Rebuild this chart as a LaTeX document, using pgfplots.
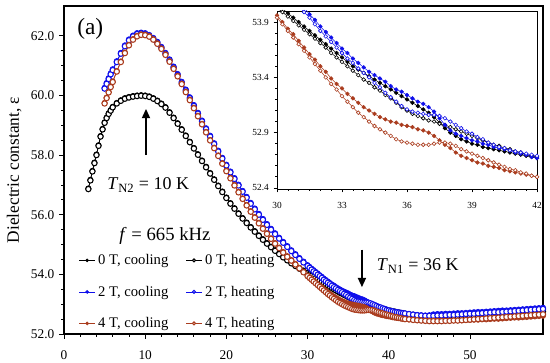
\documentclass[border=0pt]{standalone}
\usepackage{pgfplots}
\pgfplotsset{compat=1.18}
\usepackage{pgfplotstable}
\usepackage{fontspec}
\setmainfont{Liberation Serif}
\usetikzlibrary{arrows.meta}
\definecolor{cblue}{RGB}{15,15,235}
\definecolor{cbrown}{RGB}{170,60,30}

\pgfplotstableread{
T c h
3.00 56.88 56.86
3.25 57.17 57.15
3.50 57.47 57.45
3.75 57.75 57.73
4.00 58.02 58.00
4.25 58.33 58.31
4.50 58.64 58.62
4.75 58.88 58.86
5.00 59.10 59.08
5.25 59.26 59.24
5.50 59.40 59.38
5.75 59.51 59.49
6.00 59.62 59.60
6.50 59.75 59.73
7.00 59.84 59.82
7.50 59.91 59.89
8.00 59.95 59.93
8.50 59.98 59.96
9.00 60.00 59.98
9.50 60.01 59.99
10.00 60.00 59.98
10.50 59.97 59.95
11.00 59.91 59.89
11.50 59.83 59.81
12.00 59.73 59.71
12.50 59.61 59.59
13.00 59.44 59.42
13.50 59.26 59.24
14.00 59.07 59.05
14.50 58.87 58.85
15.00 58.66 58.64
15.50 58.45 58.43
16.00 58.24 58.22
16.50 58.03 58.01
17.00 57.82 57.80
17.50 57.61 57.59
18.00 57.40 57.38
18.50 57.19 57.17
19.00 56.98 56.96
19.50 56.78 56.76
20.00 56.58 56.56
20.50 56.39 56.37
21.00 56.22 56.20
21.50 56.05 56.03
22.00 55.89 55.87
22.50 55.74 55.72
23.00 55.59 55.57
23.50 55.45 55.43
24.00 55.31 55.29
24.50 55.18 55.16
25.00 55.05 55.03
25.50 54.93 54.91
26.00 54.81 54.79
26.50 54.70 54.68
27.00 54.59 54.57
27.50 54.49 54.47
28.00 54.39 54.37
28.50 54.30 54.28
29.00 54.21 54.19
29.50 54.13 54.10
30.00 54.06 54.03
30.25 54.02 53.99
30.50 53.98 53.95
30.75 53.94 53.91
31.00 53.90 53.87
31.25 53.86 53.83
31.50 53.82 53.79
31.75 53.78 53.75
32.00 53.74 53.71
32.25 53.70 53.67
32.50 53.66 53.62
32.75 53.62 53.58
33.00 53.58 53.54
33.25 53.54 53.50
33.50 53.50 53.46
33.75 53.47 53.42
34.00 53.44 53.38
34.25 53.41 53.35
34.50 53.38 53.31
34.75 53.35 53.28
35.00 53.32 53.24
35.25 53.29 53.21
35.50 53.26 53.17
35.75 53.23 53.13
36.00 53.20 53.10
36.25 53.17 53.07
36.50 53.14 53.05
36.75 53.11 53.03
37.00 53.08 53.01
37.25 53.04 53.00
37.50 52.99 52.98
37.75 52.94 52.97
38.00 52.90 52.95
38.25 52.87 52.93
38.50 52.84 52.91
38.75 52.82 52.89
39.00 52.80 52.87
39.25 52.79 52.85
39.50 52.77 52.83
39.75 52.76 52.81
40.00 52.75 52.79
40.25 52.74 52.78
40.50 52.73 52.76
40.75 52.72 52.75
41.00 52.71 52.73
41.25 52.70 52.72
41.50 52.69 52.70
41.75 52.68 52.69
42.00 52.67 52.68
42.50 52.66 52.66
43.00 52.64 52.64
43.50 52.62 52.62
44.00 52.60 52.60
44.50 52.59 52.59
45.00 52.58 52.58
45.50 52.57 52.57
46.00 52.57 52.57
46.50 52.57 52.57
47.00 52.57 52.57
47.50 52.57 52.57
48.00 52.58 52.58
48.50 52.58 52.58
49.00 52.59 52.59
49.50 52.59 52.59
50.00 52.60 52.60
50.50 52.60 52.60
51.00 52.61 52.61
51.50 52.62 52.62
52.00 52.62 52.62
52.50 52.63 52.63
53.00 52.64 52.64
53.50 52.65 52.65
54.00 52.65 52.65
54.50 52.66 52.66
55.00 52.67 52.67
55.50 52.68 52.68
56.00 52.69 52.69
56.50 52.70 52.70
57.00 52.71 52.71
57.50 52.72 52.72
58.00 52.73 52.73
58.50 52.74 52.74
59.00 52.75 52.75
}\tzero

\pgfplotstableread{
T c h
5.00 60.26 60.23
5.25 60.42 60.39
5.50 60.58 60.55
5.75 60.74 60.71
6.00 60.88 60.85
6.50 61.15 61.12
7.00 61.43 61.40
7.50 61.68 61.65
8.00 61.88 61.85
8.50 62.01 61.98
9.00 62.09 62.06
9.50 62.11 62.08
10.00 62.09 62.06
10.50 62.03 62.00
11.00 61.93 61.90
11.50 61.80 61.77
12.00 61.63 61.60
12.50 61.43 61.40
13.00 61.21 61.18
13.50 60.97 60.94
14.00 60.72 60.69
14.50 60.46 60.43
15.00 60.20 60.17
15.50 59.94 59.91
16.00 59.68 59.65
16.50 59.42 59.39
17.00 59.16 59.13
17.50 58.90 58.87
18.00 58.65 58.62
18.50 58.40 58.37
19.00 58.15 58.12
19.50 57.91 57.88
20.00 57.68 57.65
20.50 57.45 57.42
21.00 57.23 57.20
21.50 57.01 56.98
22.00 56.80 56.77
22.50 56.60 56.57
23.00 56.40 56.37
23.50 56.21 56.18
24.00 56.03 56.00
24.50 55.86 55.83
25.00 55.69 55.66
25.50 55.53 55.50
26.00 55.38 55.35
26.50 55.23 55.20
27.00 55.09 55.06
27.50 54.95 54.92
28.00 54.81 54.78
28.50 54.68 54.65
29.00 54.55 54.52
29.50 54.43 54.40
30.00 54.31 54.28
30.25 54.25 54.22
30.50 54.19 54.16
30.75 54.14 54.10
31.00 54.08 54.05
31.25 54.03 53.99
31.50 53.97 53.94
31.75 53.92 53.88
32.00 53.86 53.82
32.25 53.81 53.77
32.50 53.76 53.72
32.75 53.71 53.67
33.00 53.66 53.62
33.25 53.62 53.57
33.50 53.57 53.53
33.75 53.53 53.48
34.00 53.49 53.44
34.25 53.45 53.40
34.50 53.42 53.35
34.75 53.39 53.31
35.00 53.36 53.26
35.25 53.32 53.22
35.50 53.29 53.18
35.75 53.27 53.14
36.00 53.24 53.11
36.25 53.21 53.09
36.50 53.18 53.08
36.75 53.16 53.07
37.00 53.13 53.06
37.25 53.09 53.06
37.50 53.03 53.05
37.75 52.97 53.03
38.00 52.92 53.00
38.25 52.89 52.97
38.50 52.87 52.94
38.75 52.85 52.91
39.00 52.83 52.89
39.25 52.82 52.86
39.50 52.80 52.84
39.75 52.79 52.81
40.00 52.77 52.79
40.25 52.76 52.77
40.50 52.75 52.76
40.75 52.74 52.74
41.00 52.72 52.73
41.25 52.71 52.72
41.50 52.70 52.71
41.75 52.68 52.70
42.00 52.67 52.69
42.50 52.66 52.67
43.00 52.65 52.65
43.50 52.64 52.63
44.00 52.63 52.62
44.50 52.62 52.61
45.00 52.63 52.61
45.50 52.66 52.61
46.00 52.67 52.62
46.50 52.67 52.62
47.00 52.68 52.63
47.50 52.68 52.64
48.00 52.69 52.64
48.50 52.70 52.65
49.00 52.70 52.66
49.50 52.71 52.67
50.00 52.72 52.68
50.50 52.73 52.68
51.00 52.74 52.69
51.50 52.74 52.70
52.00 52.75 52.71
52.50 52.76 52.72
53.00 52.77 52.73
53.50 52.78 52.73
54.00 52.79 52.74
54.50 52.79 52.75
55.00 52.80 52.76
55.50 52.81 52.77
56.00 52.82 52.78
56.50 52.83 52.79
57.00 52.84 52.80
57.50 52.85 52.81
58.00 52.86 52.82
58.50 52.87 52.83
59.00 52.88 52.84
}\ttwo

\pgfplotstableread{
T c h
5.00 59.75 59.73
5.25 59.93 59.91
5.50 60.12 60.10
5.75 60.30 60.28
6.00 60.47 60.45
6.50 60.82 60.80
7.00 61.14 61.12
7.50 61.44 61.42
8.00 61.70 61.68
8.50 61.89 61.87
9.00 62.00 61.98
9.50 62.05 62.03
10.00 62.04 62.02
10.50 61.99 61.97
11.00 61.89 61.87
11.50 61.75 61.73
12.00 61.58 61.56
12.50 61.38 61.36
13.00 61.15 61.13
13.50 60.91 60.89
14.00 60.66 60.64
14.50 60.40 60.38
15.00 60.13 60.11
15.50 59.86 59.84
16.00 59.59 59.57
16.50 59.32 59.30
17.00 59.05 59.03
17.50 58.78 58.76
18.00 58.51 58.49
18.50 58.25 58.23
19.00 57.99 57.97
19.50 57.73 57.71
20.00 57.48 57.46
20.50 57.24 57.22
21.00 57.00 56.98
21.50 56.77 56.75
22.00 56.55 56.53
22.50 56.33 56.31
23.00 56.12 56.10
23.50 55.92 55.90
24.00 55.73 55.71
24.50 55.55 55.53
25.00 55.38 55.36
25.50 55.21 55.19
26.00 55.05 55.03
26.50 54.90 54.88
27.00 54.75 54.73
27.50 54.61 54.59
28.00 54.48 54.46
28.50 54.35 54.33
29.00 54.22 54.20
29.50 54.09 54.07
30.00 53.96 53.94
30.25 53.90 53.88
30.50 53.84 53.82
30.75 53.79 53.76
31.00 53.73 53.70
31.25 53.67 53.64
31.50 53.61 53.58
31.75 53.56 53.52
32.00 53.50 53.46
32.25 53.45 53.40
32.50 53.39 53.34
32.75 53.34 53.29
33.00 53.30 53.23
33.25 53.25 53.18
33.50 53.21 53.13
33.75 53.17 53.08
34.00 53.13 53.04
34.25 53.10 53.00
34.50 53.07 52.96
34.75 53.04 52.93
35.00 53.02 52.90
35.25 53.00 52.87
35.50 52.99 52.84
35.75 52.97 52.82
36.00 52.96 52.81
36.25 52.95 52.80
36.50 52.93 52.79
36.75 52.92 52.79
37.00 52.90 52.79
37.25 52.87 52.80
37.50 52.83 52.81
37.75 52.79 52.81
38.00 52.76 52.80
38.25 52.72 52.78
38.50 52.69 52.75
38.75 52.67 52.73
39.00 52.65 52.71
39.25 52.63 52.69
39.50 52.62 52.67
39.75 52.60 52.65
40.00 52.59 52.63
40.25 52.58 52.61
40.50 52.56 52.59
40.75 52.55 52.57
41.00 52.54 52.56
41.25 52.53 52.54
41.50 52.52 52.53
41.75 52.51 52.51
42.00 52.50 52.50
42.50 52.49 52.49
43.00 52.48 52.47
43.50 52.47 52.46
44.00 52.46 52.45
44.50 52.45 52.44
45.00 52.45 52.43
45.50 52.45 52.43
46.00 52.45 52.43
46.50 52.45 52.43
47.00 52.45 52.44
47.50 52.45 52.44
48.00 52.46 52.45
48.50 52.46 52.45
49.00 52.46 52.46
49.50 52.47 52.47
50.00 52.47 52.48
50.50 52.48 52.49
51.00 52.48 52.50
51.50 52.49 52.51
52.00 52.49 52.52
52.50 52.50 52.53
53.00 52.51 52.54
53.50 52.51 52.55
54.00 52.52 52.56
54.50 52.53 52.57
55.00 52.54 52.58
55.50 52.55 52.59
56.00 52.55 52.60
56.50 52.56 52.61
57.00 52.57 52.62
57.50 52.58 52.63
58.00 52.59 52.64
58.50 52.60 52.65
59.00 52.61 52.66
}\tfour

\begin{document}
\begin{tikzpicture}
\useasboundingbox (-48pt,-21.75pt) rectangle (364.5pt,250.5pt);
\begin{axis}[
  at={(0pt,0pt)}, anchor=south west,
  scale only axis, width=359.25pt, height=246pt,
  xmin=0, xmax=59, ymin=52, ymax=63,
  xtick={0,10,20,30,40,50}, ytick={52,54,56,58,60,62},
  minor x tick num=4, minor y tick num=3,
  tick align=outside, tick pos=left,
  major tick length=3.75pt, minor tick length=2.2pt,
  every tick/.style={black, line width=0.6pt},
  axis line style={line width=0.8pt},
  /pgf/number format/assume math mode=true,
  ticklabel style={font=\fontsize{10}{12}\selectfont},
  xticklabel style={yshift=-5pt},
  yticklabel style={/pgf/number format/.cd, fixed, fixed zerofill, precision=1},
  ylabel={Dielectric constant, ε},
  ylabel style={at={(axis description cs:-0.088,0.5)}, anchor=south, inner sep=0pt, font=\fontsize{13}{15}\selectfont},
  legend columns=2,
  legend cell align=left,
  legend style={draw=none, fill=none, at={(axis cs:1.3,54.86)}, anchor=north west,
    font=\fontsize{11}{13}\selectfont, row sep=10.5pt,
    /tikz/every even column/.append style={column sep=11pt}},
  legend image code/.code={\draw[mark repeat=2,mark phase=2,#1,mark size=1.1pt] plot coordinates {(0pt,0pt) (6pt,0pt) (12pt,0pt)};},
]
\addplot[black, line width=0.5pt, mark=*, mark size=2pt, mark options={fill=black, line width=0.5pt}] table[x=T,y=c]{\tzero};
\addlegendentry{0 T, cooling}
\addplot[black, line width=0.5pt, mark=*, mark size=2pt, mark options={fill=white, line width=0.8pt}] table[x=T,y=h]{\tzero};
\addlegendentry{0 T, heating}
\addplot[cblue, line width=0.5pt, mark=*, mark size=2pt, mark options={fill=cblue, line width=0.5pt}] table[x=T,y=c]{\ttwo};
\addlegendentry{2 T, cooling}
\addplot[cblue, line width=0.5pt, mark=*, mark size=2pt, mark options={fill=white, line width=0.8pt}] table[x=T,y=h]{\ttwo};
\addlegendentry{2 T, heating}
\addplot[cbrown, line width=0.5pt, mark=*, mark size=2pt, mark options={fill=cbrown, line width=0.5pt}] table[x=T,y=c]{\tfour};
\addlegendentry{4 T, cooling}
\addplot[cbrown, line width=0.5pt, mark=*, mark size=2pt, mark options={fill=white, line width=0.8pt}] table[x=T,y=h]{\tfour};
\addlegendentry{4 T, heating}
\node[anchor=base west, inner sep=0pt, font=\fontsize{17.5}{20}\selectfont] at (axis cs:1.6,62.03) {(a)};
\draw[line width=1.4pt, -{Triangle[length=7pt, width=6pt]}] (axis cs:10.1,58.0) -- (axis cs:10.1,59.55);
\node[anchor=base west, inner sep=0pt, font=\fontsize{13.5}{16}\selectfont] at (axis cs:5.3,56.83) {\textit{T}\textsubscript{N2} = 10 K};
\node[anchor=base west, inner sep=0pt, font=\fontsize{14}{16}\selectfont] at (axis cs:6.8,55.13) {\textit{f} = 665 kHz};
\draw[line width=1.4pt, -{Triangle[length=7pt, width=6pt]}] (axis cs:36.7,54.83) -- (axis cs:36.7,53.57);
\node[anchor=base west, inner sep=0pt, font=\fontsize{13.5}{16}\selectfont] at (axis cs:38.5,54.13) {\textit{T}\textsubscript{N1} = 36 K};
\end{axis}

\begin{axis}[
  at={(159.75pt,108.75pt)}, anchor=south west,
  scale only axis, width=195pt, height=133.5pt,
  xmin=30, xmax=42, ymin=52.39, ymax=54.0,
  xtick={30,33,36,39,42}, ytick={52.4,52.9,53.4,53.9},
  minor x tick num=5, minor y tick num=4,
  tick align=outside, tick pos=left,
  major tick length=2.6pt, minor tick length=1.5pt,
  every tick/.style={black, line width=0.5pt},
  axis line style={line width=0.7pt},
  axis background/.style={fill=white},
  /pgf/number format/assume math mode=true,
  ticklabel style={font=\fontsize{7}{8}\selectfont},
  xticklabel style={yshift=-4pt},
  yticklabel style={/pgf/number format/.cd, fixed, fixed zerofill, precision=1},
]
\addplot[black, line width=0.4pt, mark=*, mark size=1.4pt, mark options={fill=black, line width=0.4pt}] table[x=T,y=c]{\tzero};
\addplot[black, line width=0.4pt, mark=*, mark size=1.4pt, mark options={fill=white, line width=0.45pt}] table[x=T,y=h]{\tzero};
\addplot[cblue, line width=0.4pt, mark=*, mark size=1.4pt, mark options={fill=cblue, line width=0.4pt}] table[x=T,y=c]{\ttwo};
\addplot[cblue, line width=0.4pt, mark=*, mark size=1.4pt, mark options={fill=white, line width=0.45pt}] table[x=T,y=h]{\ttwo};
\addplot[cbrown, line width=0.4pt, mark=*, mark size=1.4pt, mark options={fill=cbrown, line width=0.4pt}] table[x=T,y=c]{\tfour};
\addplot[cbrown, line width=0.4pt, mark=*, mark size=1.4pt, mark options={fill=white, line width=0.45pt}] table[x=T,y=h]{\tfour};
\end{axis}
\end{tikzpicture}
\end{document}
